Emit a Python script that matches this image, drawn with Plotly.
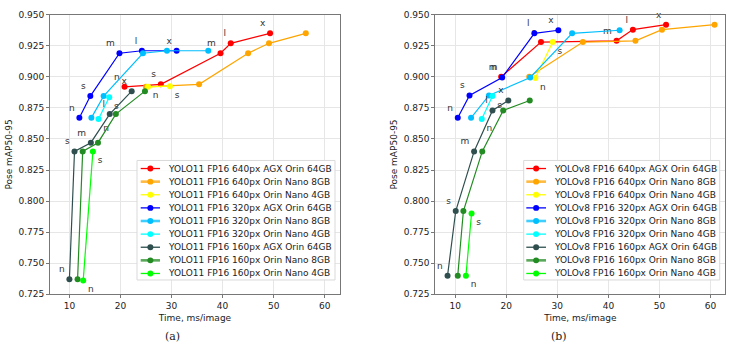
import plotly.graph_objects as go

# ---------------- data ----------------
MODELS = ["n", "s", "m", "l", "x"]

a_labels = [
    "YOLO11 FP16 640px AGX Orin 64GB",
    "YOLO11 FP16 640px Orin Nano 8GB",
    "YOLO11 FP16 640px Orin Nano 4GB",
    "YOLO11 FP16 320px AGX Orin 64GB",
    "YOLO11 FP16 320px Orin Nano 8GB",
    "YOLO11 FP16 320px Orin Nano 4GB",
    "YOLO11 FP16 160px AGX Orin 64GB",
    "YOLO11 FP16 160px Orin Nano 8GB",
    "YOLO11 FP16 160px Orin Nano 4GB",
]
a_times = [
    [20.8, 27.9, 39.6, 41.6, 49.3],
    [25.0, 35.4, 45.0, 49.1, 56.3],
    [25.4, 29.7],
    [11.95, 14.1, 19.8, 24.2, 31.0],
    [14.3, 16.7, 24.4, 29.1, 37.2],
    [15.7, 17.8],
    [10.0, 11.0, 14.2, 17.9, 22.2],
    [11.6, 12.6, 15.6, 19.1, 24.8],
    [12.7, 14.6],
]
a_maps = [
    [0.892, 0.894, 0.919, 0.927, 0.935],
    [0.892, 0.894, 0.919, 0.927, 0.935],
    [0.892, 0.8925],
    [0.867, 0.8845, 0.919, 0.921, 0.921],
    [0.867, 0.8845, 0.919, 0.921, 0.921],
    [0.866, 0.8835],
    [0.737, 0.840, 0.847, 0.870, 0.8885],
    [0.737, 0.840, 0.847, 0.870, 0.8885],
    [0.736, 0.840],
]

b_labels = [
    "YOLOv8 FP16 640px AGX Orin 64GB",
    "YOLOv8 FP16 640px Orin Nano 8GB",
    "YOLOv8 FP16 640px Orin Nano 4GB",
    "YOLOv8 FP16 320px AGX Orin 64GB",
    "YOLOv8 FP16 320px Orin Nano 8GB",
    "YOLOv8 FP16 320px Orin Nano 4GB",
    "YOLOv8 FP16 160px AGX Orin 64GB",
    "YOLOv8 FP16 160px Orin Nano 8GB",
    "YOLOv8 FP16 160px Orin Nano 4GB",
]
b_times = [
    [19.0, 26.8, 41.6, 44.8, 51.3],
    [24.5, 35.0, 45.3, 50.5, 60.8],
    [25.7, 29.1],
    [10.5, 12.8, 19.2, 25.5, 30.2],
    [13.1, 16.6, 24.7, 32.9, 42.2],
    [15.2, 17.3],
    [8.5, 10.1, 13.7, 17.3, 20.4],
    [10.5, 11.6, 15.3, 19.4, 24.6],
    [12.1, 13.2],
]
b_maps = [
    [0.900, 0.928, 0.929, 0.938, 0.942],
    [0.900, 0.928, 0.929, 0.938, 0.942],
    [0.899, 0.928],
    [0.867, 0.885, 0.8995, 0.935, 0.9375],
    [0.867, 0.885, 0.8995, 0.935, 0.9375],
    [0.866, 0.8845],
    [0.740, 0.792, 0.840, 0.873, 0.881],
    [0.740, 0.792, 0.840, 0.873, 0.881],
    [0.740, 0.790],
]

x_ticks = [10, 20, 30, 40, 50, 60]
y_ticks = [0.725, 0.750, 0.775, 0.800, 0.825, 0.850, 0.875, 0.900, 0.925, 0.950]

# ---------------- styles ----------------
COLORS = ["#ff0000", "#ffa500", "#ffff00", "#0000ff", "#00bfff", "#00ffff",
          "#2f4f4f", "#228b22", "#00ff00"]
TEXTPOS = ["top left", None, "bottom right", "top left", None, "bottom right",
           "top left", None, "bottom right"]
THICK_LEGEND = [False, True, False, False, True, False, False, True, False]
FONT = "DejaVu Sans"
W, H = 734, 353


def px_x(p):
    return p / W


def px_y(p):
    return 1 - p / H


fig = go.Figure()


def add_panel(labels, times, maps, xa, ya):
    for i, (lab, t, v) in enumerate(zip(labels, times, maps)):
        tp = TEXTPOS[i]
        fig.add_trace(go.Scatter(
            x=t, y=v, name=lab,
            mode="lines+markers+text" if tp else "lines+markers",
            text=MODELS[:len(t)] if tp else None,
            textposition=tp if tp else None,
            textfont=dict(family=FONT, size=9, color="#333333"),
            line=dict(color=COLORS[i], width=1.2),
            marker=dict(color=COLORS[i], size=6, symbol="circle"),
            xaxis=xa, yaxis=ya, cliponaxis=False, showlegend=False,
        ))


def add_legend(labels, box, line_x, text_x, y0, dy):
    # box: (x0, y0, x1, y1) in pixels
    fig.add_shape(type="rect", xref="paper", yref="paper",
                  x0=px_x(box[0]), x1=px_x(box[2]), y0=px_y(box[3]), y1=px_y(box[1]),
                  line=dict(color="#d9d9d9", width=1), fillcolor="rgba(255,255,255,0.85)",
                  layer="above")
    for i, lab in enumerate(labels):
        yy = y0 + dy * i
        fig.add_shape(type="line", xref="paper", yref="paper",
                      x0=px_x(line_x[0]), x1=px_x(line_x[1]), y0=px_y(yy), y1=px_y(yy),
                      line=dict(color=COLORS[i], width=2.6 if THICK_LEGEND[i] else 1.3),
                      opacity=0.75 if THICK_LEGEND[i] else 1.0, layer="above")
        cx = (line_x[0] + line_x[1]) / 2
        fig.add_shape(type="circle", xref="paper", yref="paper",
                      x0=px_x(cx - 3), x1=px_x(cx + 3), y0=px_y(yy + 3), y1=px_y(yy - 3),
                      line=dict(color=COLORS[i], width=0), fillcolor=COLORS[i],
                      layer="above")
        fig.add_annotation(text=lab, xref="paper", yref="paper",
                           x=px_x(text_x), y=px_y(yy), xanchor="left", yanchor="middle",
                           showarrow=False,
                           font=dict(family=FONT, size=9, color="#222222"))


add_panel(a_labels, a_times, a_maps, "x", "y")
add_panel(b_labels, b_times, b_maps, "x2", "y2")

axis_common = dict(
    showgrid=True, gridcolor="#e6e6e6", gridwidth=1,
    showline=True, linecolor="#777777", linewidth=1, mirror=True,
    ticks="outside", ticklen=3, tickcolor="#777777",
    tickfont=dict(family=FONT, size=9, color="#222222"),
    zeroline=False,
)

yd = [px_y(297.7), px_y(10)]
fig.update_layout(
    width=W, height=H,
    margin=dict(l=0, r=0, t=0, b=0),
    paper_bgcolor="white", plot_bgcolor="white",
    font=dict(family=FONT, size=9, color="#222222"),
    showlegend=False,
    xaxis=dict(domain=[px_x(50), px_x(340)], range=[6.2, 63.0], tickvals=x_ticks,
               anchor="y", title=dict(text="Time, ms/image", font=dict(size=9), standoff=4),
               **axis_common),
    yaxis=dict(domain=yd, range=[0.725, 0.950], tickvals=y_ticks, tickformat=".3f",
               anchor="x", title=dict(text="Pose mAP50-95", font=dict(size=9), standoff=4),
               **axis_common),
    xaxis2=dict(domain=[px_x(435.3), px_x(725.3)], range=[6.1, 62.9], tickvals=x_ticks,
                anchor="y2", title=dict(text="Time, ms/image", font=dict(size=9), standoff=4),
                **axis_common),
    yaxis2=dict(domain=yd, range=[0.725, 0.950], tickvals=y_ticks, tickformat=".3f",
                anchor="x2", title=dict(text="Pose mAP50-95", font=dict(size=9), standoff=4),
                **axis_common),
)

add_legend(a_labels, (137, 160, 335, 283), (140.7, 160), 166.0, 168.3, 13.5)
add_legend(b_labels, (523.7, 160, 719.7, 283), (526.3, 546), 552.0, 168.3, 13.5)

fig.add_annotation(text="(a)", x=px_x(172), y=px_y(341), xref="paper", yref="paper",
                   xanchor="center", yanchor="middle", showarrow=False,
                   font=dict(family="DejaVu Serif", size=11, color="#222222"))
fig.add_annotation(text="(b)", x=px_x(559), y=px_y(341), xref="paper", yref="paper",
                   xanchor="center", yanchor="middle", showarrow=False,
                   font=dict(family="DejaVu Serif", size=11, color="#222222"))

fig.write_html("out.html")
